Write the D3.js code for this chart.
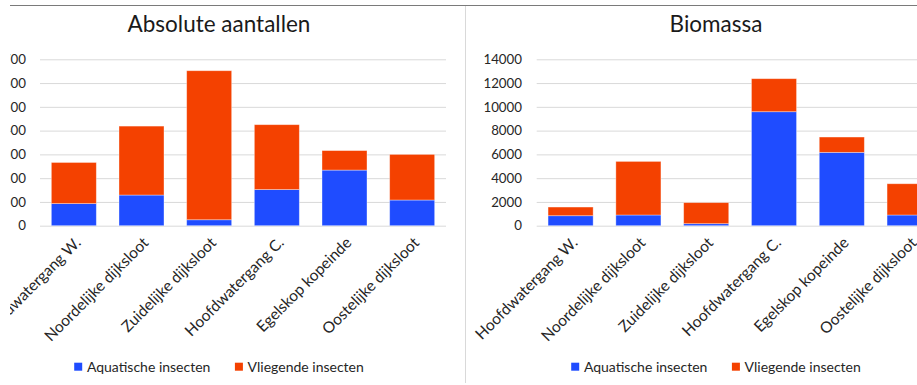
<!DOCTYPE html>
<html>
<head>
<meta charset="utf-8">
<script src="https://cdn.jsdelivr.net/npm/d3@7/dist/d3.min.js"></script>
<style>
  html, body { margin: 0; padding: 0; background: #ffffff; }
  svg { display: block; font-family: Lato, "Open Sans", sans-serif; }
</style>
</head>
<body>
<svg id="chart" width="917" height="385"></svg>
<script>
// Sampling sites along the x axis
const categories = [
  "Hoofdwatergang W.",
  "Noordelijke dijksloot",
  "Zuidelijke dijksloot",
  "Hoofdwatergang C.",
  "Egelskop kopeinde",
  "Oostelijke dijksloot"
];
const seriesNames = ["Aquatische insecten", "Vliegende insecten"];
const seriesColors = ["#1f4cff", "#f44100"];

// Absolute counts per site
const countAquatic = [93, 129, 25, 152, 234, 108];
const countFlying = [173, 290, 627, 273, 82, 192];
const countTicks = [0, 100, 200, 300, 400, 500, 600, 700];

// Biomass per site
const biomassAquatic = [840, 900, 170, 9590, 6170, 900];
const biomassFlying = [730, 4510, 1770, 2780, 1290, 2630];
const biomassTicks = [0, 2000, 4000, 6000, 8000, 10000, 12000, 14000];

const svg = d3.select("#chart");

// clip for the left panel (its left edge is cut off)
svg.append("defs").append("clipPath").attr("id", "leftClip")
  .append("rect").attr("x", 10).attr("y", 0).attr("width", 456).attr("height", 385);

// frame lines
svg.append("line").attr("x1", 10).attr("x2", 917).attr("y1", 5.5).attr("y2", 5.5)
  .attr("stroke", "#7a7a7a").attr("stroke-width", 1);
svg.append("line").attr("x1", 465.5).attr("x2", 465.5).attr("y1", 6).attr("y2", 383)
  .attr("stroke", "#d9d9d9").attr("stroke-width", 1);

function drawPanel(g, opts) {
  const rows = categories.map((c, i) => ({
    cat: c,
    [seriesNames[0]]: opts.aquatic[i],
    [seriesNames[1]]: opts.flying[i]
  }));
  const stacked = d3.stack().keys(seriesNames)(rows);

  const x = d3.scaleBand().domain(categories)
    .range([opts.x0, opts.x1]).paddingInner(0.335).paddingOuter(0.1675);
  const y = d3.scaleLinear().domain([0, d3.max(opts.ticks)])
    .range([225.7, 59.3]);

  // title
  g.append("text").attr("x", opts.cx).attr("y", 31.5)
    .attr("text-anchor", "middle").attr("font-size", 22.5).attr("fill", "#1a1a1a")
    .text(opts.title);

  // gridlines
  const yAxis = d3.axisLeft(y).tickValues(opts.ticks).tickSize(-(opts.gridEnd - opts.x0))
    .tickPadding(opts.x0 - opts.labelRight).tickFormat(d3.format("d"));
  const ya = g.append("g").attr("transform", `translate(${opts.x0},0)`).call(yAxis);
  ya.select(".domain").remove();
  ya.selectAll(".tick line").attr("stroke", "#d9d9d9").attr("stroke-width", 1);
  ya.selectAll(".tick text").attr("font-size", 13.3).attr("fill", "#262626")
    .attr("font-family", "Lato, sans-serif");

  // stacked bars
  g.append("g").selectAll("g").data(stacked).join("g")
    .attr("fill", (d, i) => seriesColors[i])
    .selectAll("rect").data(d => d).join("rect")
    .attr("x", d => x(d.data.cat))
    .attr("width", x.bandwidth())
    .attr("y", d => y(d[1]))
    .attr("height", d => y(d[0]) - y(d[1]))
    .attr("stroke", "#ffffff").attr("stroke-opacity", 0.45).attr("stroke-width", 0.8);

  // category labels, rotated
  const xa = g.append("g").attr("transform", `translate(0,${y(0)})`)
    .call(d3.axisBottom(x).tickSize(0).tickPadding(0));
  xa.select(".domain").remove();
  xa.selectAll(".tick text")
    .attr("font-size", 15.5).attr("fill", "#262626").attr("font-family", "Lato, sans-serif")
    .attr("text-anchor", "end").attr("dy", 0)
    .attr("transform", "translate(8,18) rotate(-45)");

  // legend
  const legend = g.append("g");
  let cursor = 0;
  const items = [];
  seriesNames.forEach((name, i) => {
    const it = legend.append("g");
    it.append("rect").attr("x", 0).attr("y", 362.7).attr("width", 8).attr("height", 8)
      .attr("fill", seriesColors[i]);
    const t = it.append("text").attr("x", 12.7).attr("y", 371.5)
      .attr("font-size", 14).attr("fill", "#262626").text(name);
    items.push({ it, w: 12.7 + t.node().getComputedTextLength() });
  });
  items.forEach((o, i) => {
    o.it.attr("transform", `translate(${cursor},0)`);
    cursor += o.w + (i < items.length - 1 ? 24.5 : 0);
  });
  legend.attr("transform", `translate(${opts.cx - cursor / 2},0)`);
}

drawPanel(svg.append("g").attr("clip-path", "url(#leftClip)"), {
  title: "Absolute aantallen",
  aquatic: countAquatic, flying: countFlying, ticks: countTicks,
  x0: 40, x1: 446, gridEnd: 446, labelRight: 26, cx: 219
});

drawPanel(svg.append("g"), {
  title: "Biomassa",
  aquatic: biomassAquatic, flying: biomassFlying, ticks: biomassTicks,
  x0: 536.7, x1: 943.5, gridEnd: 943.5, labelRight: 522, cx: 716
});
</script>
</body>
</html>
